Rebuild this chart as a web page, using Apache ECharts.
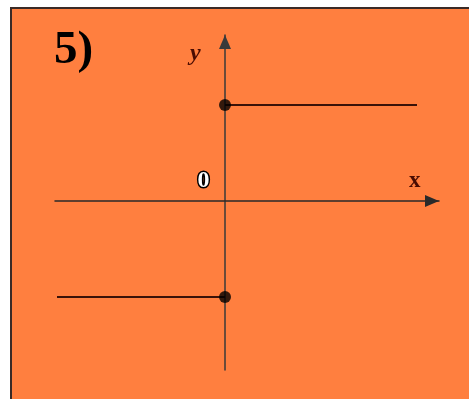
<!DOCTYPE html>
<html>
<head>
<meta charset="utf-8">
<script src="https://cdn.jsdelivr.net/npm/echarts@6/dist/echarts.min.js"></script>
<style>
  html, body { margin: 0; padding: 0; background: #ffffff; }
  #wrap { position: relative; width: 469px; height: 399px; overflow: hidden; }
  #panel {
    position: absolute; left: 10px; top: 7px; right: 0; bottom: 0;
    background: #ff7f3f;
    border-top: 2px solid #3a2a26;
    border-left: 2px solid #3a2a26;
  }
  #chart { position: absolute; left: 0; top: 0; width: 469px; height: 399px; }
</style>
</head>
<body>
<div id="wrap">
  <div id="panel"></div>
  <div id="chart"></div>
</div>
<script>
// Step function: y = 2 for x >= 0, y = -2 for x < 0 (closed dots at x = 0).

const X_RANGE = [-3.5417, 4.4583];
const Y_RANGE = [-3.5208, 3.4583];

const upperX = [0, 4];
const upperY = [2, 2];
const lowerX = [-3.5, 0];
const lowerY = [-2, -2];
const dotX = [0, 0];
const dotY = [2, -2];

const SEG_COLOR = "#3a1208";
const LABEL_COLOR = "#4a0c02";

const chart = echarts.init(document.getElementById("chart"), null, { renderer: "canvas" });

const zip = (xs, ys) => xs.map((x, i) => [x, ys[i]]);

chart.setOption({
  backgroundColor: "transparent",
  animation: false,
  title: {
    text: "5)",
    left: 49,
    top: 22,
    textStyle: {
      fontFamily: "Liberation Serif",
      fontWeight: "bold",
      fontSize: 47,
      color: "#000",
    },
  },
  grid: { left: 55, right: 30, top: 35, bottom: 29 },
  xAxis: {
    type: "value",
    min: X_RANGE[0],
    max: X_RANGE[1],
    axisLine: {
      onZero: true,
      symbol: ["none", "triangle"],
      symbolSize: [12, 14],
      symbolOffset: [0, -7],
      lineStyle: { color: "#2a2a2a", width: 1.5 },
    },
    axisTick: { show: false },
    axisLabel: { show: false },
    splitLine: { show: false },
  },
  yAxis: {
    type: "value",
    min: Y_RANGE[0],
    max: Y_RANGE[1],
    axisLine: {
      onZero: true,
      symbol: ["none", "triangle"],
      symbolSize: [12, 14],
      symbolOffset: [0, -7],
      lineStyle: { color: "#3a3a3a", width: 1.5 },
    },
    axisTick: { show: false },
    axisLabel: { show: false },
    splitLine: { show: false },
  },
  series: [
    {
      type: "line",
      data: zip(upperX, upperY),
      showSymbol: false,
      lineStyle: { color: SEG_COLOR, width: 2 },
    },
    {
      type: "line",
      data: zip(lowerX, lowerY),
      showSymbol: false,
      lineStyle: { color: SEG_COLOR, width: 2 },
    },
    {
      type: "scatter",
      data: zip(dotX, dotY),
      symbolSize: 12,
      itemStyle: { color: "#000" },
      z: 5,
    },
  ],
  graphic: [
    {
      type: "text",
      left: 190,
      top: 42,
      style: {
        text: "y",
        font: "italic bold 24px 'Liberation Serif'",
        fill: LABEL_COLOR,
      },
    },
    {
      type: "text",
      left: 409,
      top: 170,
      style: {
        text: "x",
        font: "bold 23px 'Liberation Serif'",
        fill: LABEL_COLOR,
      },
    },
    {
      type: "text",
      left: 196,
      top: 167,
      style: {
        text: "0",
        font: "bold 24px 'Liberation Serif'",
        fill: "#ffffff",
        stroke: "#000",
        lineWidth: 3,
      },
    },
  ],
});
</script>
</body>
</html>
